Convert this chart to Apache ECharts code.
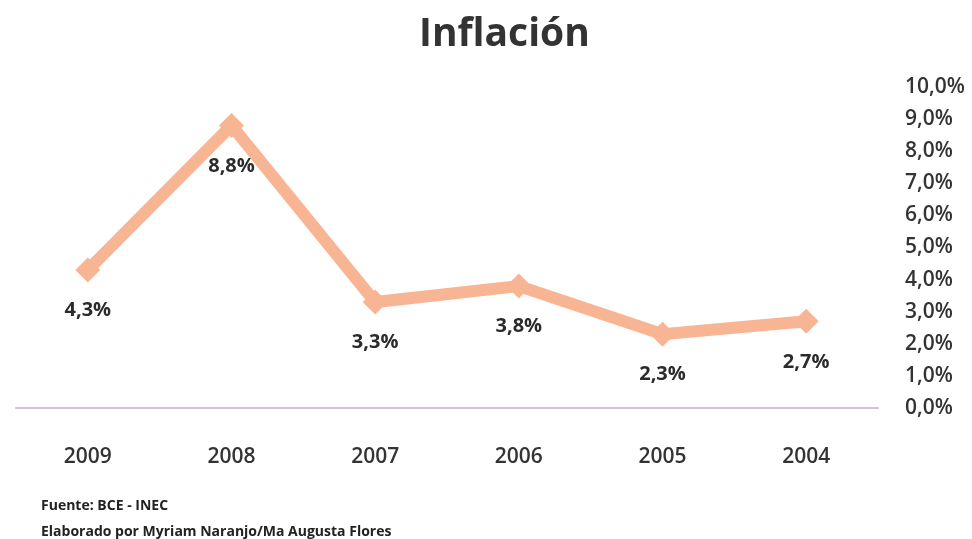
<!DOCTYPE html>
<html>
<head>
<meta charset="utf-8">
<script src="https://cdn.jsdelivr.net/npm/echarts@6/dist/echarts.min.js"></script>
<style>
  html, body { margin: 0; padding: 0; background: #ffffff; }
  #chart { width: 972px; height: 539px; }
</style>
</head>
<body>
<div id="chart"></div>
<script>
// Annual inflation, most recent year first
const years = ['2009', '2008', '2007', '2006', '2005', '2004'];
const inflation = [4.3, 8.8, 3.3, 3.8, 2.3, 2.7];
const yTicks = { min: 0, max: 10, step: 1 };
const titleText = 'Inflación';
const sourceLines = ['Fuente: BCE - INEC', 'Elaborado por Myriam Naranjo/Ma Augusta Flores'];

const pct = v => v.toFixed(1).replace('.', ',') + '%';

const chart = echarts.init(document.getElementById('chart'), null, { renderer: 'canvas' });

chart.setOption({
  backgroundColor: '#ffffff',
  animation: false,
  textStyle: { fontFamily: 'Open Sans' },
  title: {
    text: titleText,
    left: 414,
    top: 10,
    textStyle: { fontFamily: 'Open Sans', fontWeight: 'bold', fontSize: 39, color: '#333333' }
  },
  grid: { left: 16, right: 94, top: 87, bottom: 131, containLabel: false },
  xAxis: {
    type: 'category',
    data: years,
    boundaryGap: true,
    axisLine: { show: true, lineStyle: { color: '#D6BFE3', width: 2 } },
    axisTick: { show: false },
    axisLabel: { margin: 39, fontSize: 21, fontWeight: 600, color: '#333333', fontFamily: 'Open Sans' }
  },
  yAxis: {
    type: 'value',
    position: 'right',
    min: yTicks.min,
    max: yTicks.max,
    interval: yTicks.step,
    axisLine: { show: false },
    axisTick: { show: false },
    splitLine: { show: false },
    axisLabel: {
      margin: 27,
      fontSize: 21,
      fontWeight: 600,
      color: '#333333',
      fontFamily: 'Open Sans',
      formatter: v => pct(v)
    }
  },
  series: [{
    type: 'line',
    data: inflation,
    symbol: 'diamond',
    symbolSize: 25,
    itemStyle: { color: '#F8B593' },
    lineStyle: { color: '#F8B593', width: 12, join: 'miter' },
    label: {
      show: true,
      position: 'bottom',
      distance: 18,
      fontFamily: 'Open Sans',
      fontWeight: 'bold',
      fontSize: 20,
      color: '#2b2b2b',
      formatter: p => pct(p.value)
    }
  }],
  graphic: sourceLines.map((t, i) => ({
    type: 'text',
    left: 41,
    top: 499 + i * 26,
    style: { text: t, font: 'bold 14px "Open Sans"', fill: '#222222' }
  }))
});
</script>
</body>
</html>
